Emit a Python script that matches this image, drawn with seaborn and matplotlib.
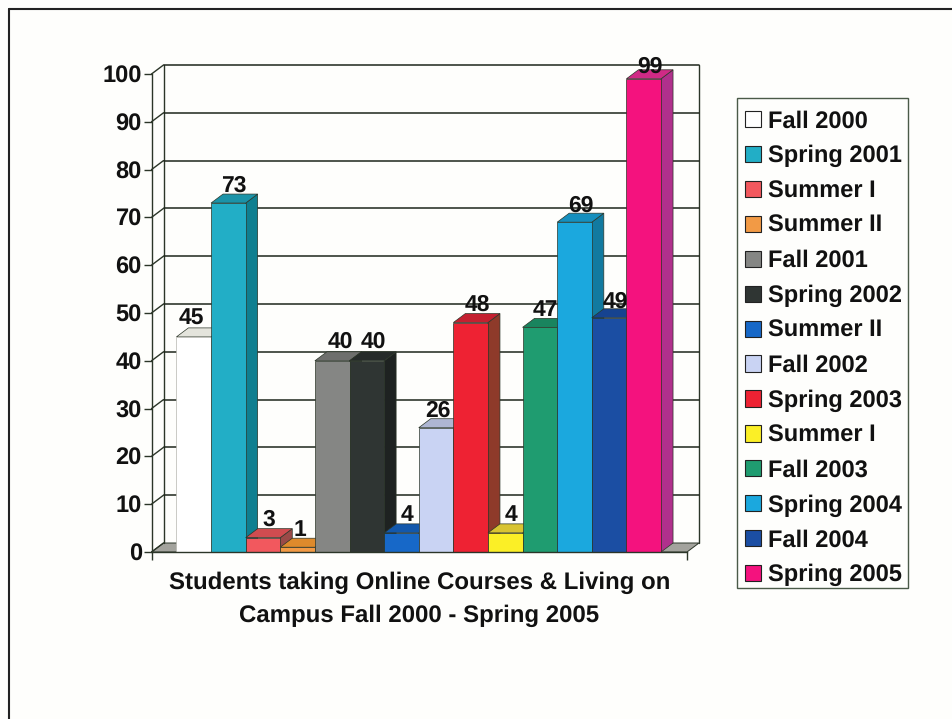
import numpy as np
import pandas as pd
import matplotlib
matplotlib.use("Agg")
import matplotlib.pyplot as plt
from matplotlib.lines import Line2D
from matplotlib.patches import Patch, Polygon, Rectangle
import seaborn as sns

TERMS = ["Fall 2000", "Spring 2001", "Summer I", "Summer II", "Fall 2001", "Spring 2002", "Summer II",
         "Fall 2002", "Spring 2003", "Summer I", "Fall 2003", "Spring 2004", "Fall 2004", "Spring 2005"]
STUDENTS = [45, 73, 3, 1, 40, 40, 4, 26, 48, 4, 47, 69, 49, 99]
YTICKS = list(range(0, 101, 10))
TITLE = "Students taking Online Courses & Living on\nCampus Fall 2000 - Spring 2005"

FRONT = ["#FFFFFF", "#22AEC6", "#F2585E", "#F29A45", "#858684", "#2F3533", "#1768C8",
         "#C9D3F3", "#EE2233", "#FBEF26", "#1F9C70", "#1BA8DE", "#1B4EA3", "#F4127E"]
SIDE = ["#B8B8B0", "#0F7F90", "#9A4A48", "#A86B30", "#5E5F5D", "#1E2221", "#104A90",
        "#8F96B0", "#8E3A2A", "#B0A520", "#166E50", "#127AA0", "#123875", "#B0308C"]
TOP = ["#E4E4DC", "#1B93A8", "#D04C50", "#DE8A2C", "#6E6F6D", "#262B2A", "#1358AC",
       "#AEB6D2", "#C42030", "#D8C432", "#19845E", "#168FBE", "#164390", "#D02A86"]
FLOOR = "#A3A39D"
LINE = "#2B3528"
BG = "#FEFEFC"

# 3D look: how far the box goes back, in pixels
DEPTH_X_PX = 12
DEPTH_Y_PX = 9

# hand placement of the value labels, in pixels
LABEL_NUDGE_X = [-8, 0, 0, -4, 2, 1, 0, -4, 1, 0, 0, 0, 0, 0]
LABEL_NUDGE_Y = [2, 1, 1, 1, 3, 3, 1, 1, 1, 1, 1, 0, 0, -4]

sns.set_style("white")
plt.rcParams["font.family"] = ["Liberation Sans", "DejaVu Sans"]
plt.rcParams["font.weight"] = "bold"
plt.rcParams["text.kerning_factor"] = 6
plt.rcParams["text.hinting"] = "no_hinting"

df = pd.DataFrame({"pos": np.arange(len(TERMS)), "students": STUDENTS})

fig = plt.figure(figsize=(9.52, 7.19), dpi=100, facecolor=BG)
ax = fig.add_axes([151.5 / 952, (719 - 552) / 719, 535.5 / 952, 478 / 719])
ax.patch.set_alpha(0)

sns.barplot(data=df, x="pos", y="students", hue="pos", palette=FRONT, width=1, saturation=1,
            legend=False, dodge=False, native_scale=True, edgecolor=LINE, linewidth=0.5, ax=ax)
bars = sorted(ax.patches, key=lambda p: p.get_x())

ax.set_xlim(-1.22, 14.25)
ax.set_ylim(0, 100)
px_x = 535.5 / (14.25 + 1.22)
px_y = 4.78
dx = DEPTH_X_PX / px_x
dy = DEPTH_Y_PX / px_y
x0, x1 = ax.get_xlim()

# back wall, side wall and floor
ax.add_patch(Polygon([(x0, 0), (x1, 0), (x1 + dx, dy), (x0 + dx, dy)], closed=True, fc=FLOOR, ec=LINE,
                     lw=0.7, clip_on=False, zorder=1))
ax.add_line(Line2D([x0 + dx, x0 + dx], [dy, 100 + dy], color=LINE, lw=1, clip_on=False, zorder=1))
ax.add_line(Line2D([x1 + dx, x1 + dx], [dy, 100 + dy], color=LINE, lw=1, clip_on=False, zorder=1))
for v in YTICKS[1:]:
    ax.add_line(Line2D([x0 + dx, x1 + dx], [v + dy, v + dy], color="#1E261C", lw=1.1, clip_on=False, zorder=1))
for v in YTICKS:
    ax.add_line(Line2D([x0, x0 + dx], [v, v + dy], color=LINE, lw=1, clip_on=False, zorder=1))

# side and top of each bar, drawn left to right so later bars cover earlier ones
for i, bar in enumerate(bars):
    left = bar.get_x()
    right = left + bar.get_width()
    h = bar.get_height()
    z = 3 + i * 0.1
    ax.add_patch(Polygon([(right, 0), (right + dx, dy), (right + dx, h + dy), (right, h)], closed=True,
                         fc=SIDE[i], ec=LINE, lw=0.5, clip_on=False, zorder=z))
    ax.add_patch(Polygon([(left, h), (left + dx, h + dy), (right + dx, h + dy), (right, h)], closed=True,
                         fc=TOP[i], ec=LINE, lw=0.5, clip_on=False, zorder=z))
    bar.set_zorder(z + 0.05)
    ax.text(left + 0.67 + LABEL_NUDGE_X[i] / px_x, h + dy + 0.3 + LABEL_NUDGE_Y[i] / px_y, str(STUDENTS[i]),
            ha="center", va="baseline", fontsize=16.5, color="#111111", clip_on=False, zorder=10)
bars[0].set_edgecolor("#B5B5AE")

ax.set_xticks([x0, x1])
ax.set_xticklabels(["", ""])
ax.set_yticks(YTICKS)
ax.tick_params(axis="both", length=6, width=1, color=LINE, left=True, bottom=True, pad=1)
ax.tick_params(axis="y", labelsize=17, labelcolor="#111111")
ax.set_xlabel(TITLE, fontsize=17.3, fontweight="bold", color="#111111", labelpad=7, linespacing=1.6)
ax.set_ylabel("")
for name, spine in ax.spines.items():
    spine.set_visible(name in ("left", "bottom"))
    spine.set_color(LINE)
    spine.set_linewidth(1)
    spine.set_zorder(9)

handles = [Patch(fc=c, ec="#222222", lw=0.8) for c in FRONT]
fig.legend(handles, TERMS, loc="upper left", bbox_to_anchor=(745 / 952, 1 - 110 / 719), borderaxespad=0,
           fontsize=17, frameon=False, handlelength=0.68, handleheight=0.68, handletextpad=0.3,
           labelspacing=0.53, borderpad=0, labelcolor="#111111")
fig.add_artist(Rectangle((737 / 952, 1 - 588 / 719), 171 / 952, 490 / 719, transform=fig.transFigure,
                         fc="none", ec="#4A5A48", lw=1))

# scanned page border
fig.add_artist(Line2D([9 / 952, 9 / 952], [0, 1 - 9 / 719], color="#222222", lw=1.5))
fig.add_artist(Line2D([9 / 952, 1], [1 - 9 / 719, 1 - 9 / 719], color="#222222", lw=1.5))

fig.savefig("out.png", dpi=100, facecolor=BG)
